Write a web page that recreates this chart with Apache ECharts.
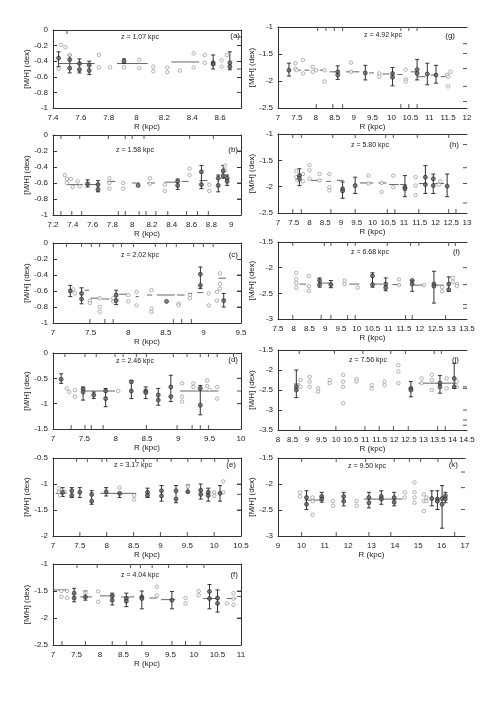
<!DOCTYPE html>
<html><head><meta charset="utf-8">
<script src="https://cdn.jsdelivr.net/npm/echarts/dist/echarts.min.js"></script>
<style>html,body{margin:0;padding:0;background:#fff}#c{width:496px;height:702px}</style>
</head><body><div id="c"></div>
<script>
// ---------- DATA ----------
// err: [R, upper, lower]; dots: filled points [R, [M/H]]; open: open points; means: [R1, R2, [M/H]]
const a_err=[[7.44,-0.28,-0.47],[7.52,-0.32,-0.55],[7.59,-0.37,-0.55],[7.66,-0.40,-0.57],[7.91,-0.37,-0.43],[8.55,-0.32,-0.50],[8.67,-0.28,-0.51]];
const a_dots=[[7.44,-0.36],[7.52,-0.38],[7.52,-0.49],[7.59,-0.43],[7.59,-0.51],[7.66,-0.45],[7.66,-0.52],[7.91,-0.40],[8.55,-0.42],[8.55,-0.44],[8.67,-0.42],[8.67,-0.47]];
const a_open=[[7.46,-0.19],[7.49,-0.22],[7.52,-0.32],[7.44,-0.5],[7.59,-0.5],[7.73,-0.32],[7.73,-0.48],[7.81,-0.48],[7.91,-0.48],[8.02,-0.38],[8.02,-0.49],[8.12,-0.47],[8.12,-0.53],[8.22,-0.48],[8.22,-0.54],[8.31,-0.52],[8.41,-0.30],[8.41,-0.48],[8.49,-0.32],[8.49,-0.42],[8.61,-0.39],[8.61,-0.47],[8.65,-0.32]];
const a_means=[[7.44,7.70,-0.43],[7.86,8.08,-0.43],[8.25,8.45,-0.41]];
const a_rugTop=[7.5], a_rugBot=[], a_rugRight=[-0.09,-0.5,-0.8];

const b_err=[[7.55,-0.56,-0.65],[7.655,-0.57,-0.71],[8.46,-0.55,-0.68],[8.70,-0.38,-0.67],[8.87,-0.50,-0.71],[8.92,-0.38,-0.54],[8.96,-0.50,-0.63]];
const b_dots=[[7.55,-0.61],[7.655,-0.62],[7.655,-0.68],[8.06,-0.63],[8.46,-0.58],[8.46,-0.63],[8.70,-0.46],[8.70,-0.62],[8.87,-0.54],[8.87,-0.63],[8.92,-0.45],[8.92,-0.51],[8.96,-0.54],[8.96,-0.58]];
const b_open=[[7.32,-0.50],[7.34,-0.55],[7.34,-0.60],[7.38,-0.55],[7.40,-0.65],[7.45,-0.58],[7.47,-0.64],[7.77,-0.54],[7.77,-0.60],[7.77,-0.67],[7.91,-0.60],[7.91,-0.67],[8.18,-0.54],[8.18,-0.61],[8.33,-0.62],[8.33,-0.70],[8.58,-0.42],[8.58,-0.50],[8.78,-0.62],[8.78,-0.70],[8.94,-0.38],[8.94,-0.44]];
const b_means=[[7.34,7.50,-0.62],[7.52,7.67,-0.62],[7.75,7.83,-0.58],[8.00,8.08,-0.60],[8.15,8.23,-0.60],[8.33,8.45,-0.59],[8.50,8.57,-0.58],[8.68,8.76,-0.57]];
const b_rugTop=[7.28,7.47,7.76,7.93,8.00,8.12,8.58,8.82], b_rugBot=[7.28,7.39,7.49,7.86,7.93,8.07,8.14,8.24,8.36,8.55,8.66,8.77], b_rugRight=[-0.2,-0.6,-0.8];

const c_err=[[7.23,-0.53,-0.67],[7.38,-0.56,-0.76],[7.84,-0.59,-0.77],[8.96,-0.30,-0.57],[9.27,-0.63,-0.80]];
const c_dots=[[7.23,-0.60],[7.38,-0.63],[7.38,-0.70],[7.84,-0.65],[7.84,-0.72],[8.51,-0.73],[8.96,-0.39],[8.96,-0.53],[9.27,-0.72]];
const c_open=[[7.27,-0.58],[7.29,-0.63],[7.49,-0.72],[7.49,-0.75],[7.62,-0.69],[7.62,-0.80],[7.62,-0.86],[7.80,-0.69],[7.80,-0.73],[8.0,-0.65],[8.0,-0.73],[8.11,-0.61],[8.11,-0.78],[8.31,-0.59],[8.31,-0.82],[8.31,-0.86],[8.67,-0.76],[8.67,-0.78],[8.82,-0.65],[8.82,-0.69],[9.07,-0.63],[9.07,-0.78],[9.18,-0.61],[9.18,-0.72],[9.22,-0.38],[9.22,-0.51],[9.22,-0.57]];
const c_means=[[7.42,7.48,-0.59],[7.5,7.62,-0.69],[7.65,7.75,-0.70],[7.88,7.98,-0.64],[8.1,8.14,-0.67],[8.25,8.32,-0.65],[8.38,8.62,-0.65],[8.65,8.75,-0.65],[8.8,8.85,-0.63],[8.92,9.0,-0.62],[9.2,9.3,-0.44]];
const c_rugTop=[7.18,7.38,7.51,7.62,7.80,7.91,8.07,8.36,8.51,8.64,8.87,9.0,9.13], c_rugBot=[7.49,7.69,7.80,8.60,8.71,8.84], c_rugRight=[-0.4,-0.6,-0.8];

const d_err=[[7.13,-0.41,-0.60],[7.48,-0.67,-0.93],[7.65,-0.77,-0.90],[7.84,-0.70,-1.06],[8.25,-0.54,-0.90],[8.48,-0.67,-0.90],[8.68,-0.70,-1.03],[8.88,-0.44,-0.96],[9.35,-0.64,-1.22]];
const d_dots=[[7.13,-0.52],[7.48,-0.71],[7.48,-0.77],[7.65,-0.83],[7.84,-0.75],[7.84,-0.90],[8.25,-0.57],[8.25,-0.75],[8.48,-0.75],[8.48,-0.78],[8.68,-0.83],[8.68,-0.93],[8.88,-0.67],[8.88,-0.86],[9.35,-0.70],[9.35,-1.03]];
const d_open=[[7.22,-0.70],[7.26,-0.77],[7.35,-0.73],[7.35,-0.86],[8.04,-0.75],[9.06,-0.60],[9.06,-0.86],[9.06,-0.96],[9.24,-0.60],[9.24,-0.67],[9.46,-0.54],[9.46,-0.65],[9.50,-0.73],[9.62,-0.67],[9.62,-0.90]];
const d_means=[[7.48,7.99,-0.75],[9.03,9.64,-0.75]];
const d_rugTop=[7.19,7.51,7.69,7.99,8.12,8.33,8.49,8.92,9.14,9.35,9.48,9.62,9.88], d_rugBot=[7.29,7.51,7.61,7.80,8.49,8.98,9.22,9.35,9.48], d_rugRight=[-0.5,-0.75,-1.0];

const e_err=[[7.18,-1.07,-1.24],[7.35,-1.07,-1.26],[7.50,-1.07,-1.26],[7.72,-1.13,-1.39],[7.99,-1.07,-1.23],[8.24,-1.18,-1.26],[8.76,-1.08,-1.26],[9.02,-1.03,-1.33],[9.29,-1.03,-1.36],[9.51,-1.02,-1.16],[9.75,-1.0,-1.29],[9.89,-1.08,-1.33],[10.11,-1.03,-1.33]];
const e_dots=[[7.18,-1.16],[7.35,-1.13],[7.35,-1.22],[7.50,-1.16],[7.72,-1.20],[7.72,-1.33],[7.99,-1.15],[8.24,-1.18],[8.76,-1.16],[8.76,-1.22],[9.02,-1.13],[9.02,-1.23],[9.29,-1.13],[9.29,-1.29],[9.51,-1.15],[9.75,-1.12],[9.75,-1.20],[9.89,-1.16],[9.89,-1.22],[10.11,-1.18]];
const e_open=[[7.11,-1.08],[7.11,-1.16],[7.13,-1.22],[7.16,-1.12],[7.22,-1.15],[8.24,-1.07],[8.51,-1.22],[8.51,-1.30],[9.51,-1.05],[10.0,-1.16],[10.0,-1.23],[10.17,-0.95],[10.17,-1.16]];
const e_means=[[7.05,7.25,-1.18],[7.88,8.55,-1.18]];
const e_rugTop=[7.44,7.64,7.91,8.0,8.54,8.69,8.94,9.20,9.51,9.76,10.01,10.26], e_rugBot=[7.5,8.0,8.5,9.0,9.5,10.0], e_rugRight=[-1.0,-1.2,-1.5];

const f_err=[[7.45,-1.45,-1.70],[7.69,-1.50,-1.67],[8.26,-1.54,-1.76],[8.56,-1.54,-1.79],[8.89,-1.50,-1.83],[9.53,-1.51,-1.83],[10.33,-1.38,-1.83],[10.50,-1.48,-1.89]];
const f_dots=[[7.45,-1.54],[7.45,-1.63],[7.69,-1.61],[8.26,-1.59],[8.26,-1.67],[8.56,-1.64],[8.56,-1.69],[8.89,-1.61],[8.89,-1.64],[9.53,-1.67],[10.33,-1.51],[10.33,-1.64],[10.50,-1.63],[10.50,-1.73]];
const f_open=[[7.18,-1.50],[7.18,-1.61],[7.30,-1.50],[7.30,-1.63],[7.69,-1.53],[7.96,-1.51],[7.96,-1.70],[9.21,-1.42],[9.21,-1.58],[9.82,-1.63],[9.82,-1.73],[10.10,-1.50],[10.10,-1.58],[10.70,-1.73],[10.84,-1.54],[10.84,-1.64],[10.84,-1.76]];
const f_means=[[7.02,7.30,-1.48],[7.58,7.83,-1.61],[8.0,8.32,-1.59],[8.45,8.73,-1.61],[9.05,9.22,-1.63],[9.3,9.6,-1.66],[10.2,10.55,-1.64],[10.7,10.9,-1.64]];
const f_rugTop=[7.51,7.94,8.65,8.86,9.11,9.46,9.85,10.21], f_rugBot=[7.19,7.69,8.26,8.56,8.89,9.53,9.82,10.13], f_rugRight=[-1.5,-1.6,-2.0];

const g_err=[[7.29,-1.67,-1.91],[8.58,-1.72,-1.97],[9.31,-1.71,-1.98],[10.03,-1.75,-2.09],[10.68,-1.60,-1.98],[10.95,-1.67,-2.07],[11.18,-1.71,-2.04]];
const g_dots=[[7.29,-1.80],[8.58,-1.83],[8.58,-1.89],[9.31,-1.85],[10.03,-1.86],[10.03,-1.93],[10.68,-1.79],[10.68,-1.86],[10.95,-1.87],[11.18,-1.89]];
const g_open=[[7.46,-1.67],[7.46,-1.77],[7.49,-1.80],[7.66,-1.61],[7.66,-1.86],[7.92,-1.74],[7.92,-1.83],[8.01,-1.80],[8.23,-1.80],[8.23,-2.01],[8.93,-1.66],[8.93,-1.83],[9.68,-1.86],[9.68,-1.92],[10.38,-1.79],[10.38,-1.97],[10.38,-2.01],[11.47,-1.89],[11.5,-1.92],[11.5,-2.10],[11.56,-1.83]];
const g_means=[[7.53,7.61,-1.80],[7.70,7.83,-1.80],[8.10,8.20,-1.80],[8.36,8.54,-1.83],[8.80,9.15,-1.83],[9.41,9.54,-1.85],[9.76,9.94,-1.87],[10.16,10.29,-1.88],[10.51,10.64,-1.83],[10.68,10.90,-1.92],[11.04,11.17,-1.89],[11.30,11.43,-1.92]];
const g_rugTop=[8.05,8.27,8.49,8.71,10.25,10.46,10.68], g_rugBot=[8.01,8.45,8.71,10.25,10.46,10.68], g_rugRight=[-1.31,-1.49,-1.77,-2.10,-2.38];

const h_err=[[7.68,-1.66,-1.98],[9.05,-1.91,-2.22],[9.45,-1.82,-2.13],[11.03,-1.79,-2.19],[11.68,-1.60,-2.13],[11.93,-1.76,-2.13],[12.37,-1.76,-2.19]];
const h_dots=[[7.68,-1.79],[7.68,-1.85],[9.05,-2.04],[9.05,-2.08],[9.45,-1.98],[11.03,-2.01],[11.03,-2.04],[11.68,-1.82],[11.68,-1.96],[11.93,-1.85],[11.93,-1.98],[12.37,-1.99]];
const h_open=[[7.58,-1.70],[7.58,-1.82],[7.62,-1.88],[7.79,-1.76],[7.79,-1.90],[8.0,-1.59],[8.0,-1.69],[8.0,-1.85],[8.32,-1.76],[8.32,-1.88],[8.63,-1.76],[8.63,-2.01],[8.63,-2.07],[9.87,-1.79],[9.87,-1.94],[10.29,-1.93],[10.29,-2.10],[10.66,-1.79],[10.66,-2.01],[11.37,-1.82],[11.37,-1.98],[11.37,-2.16],[12.11,-1.96],[12.15,-1.90]];
const h_means=[[8.05,8.37,-1.88],[8.53,8.68,-1.90],[8.87,9.08,-1.88],[9.60,10.03,-1.93],[10.19,10.45,-1.93],[10.53,10.84,-1.96],[10.87,11.08,-1.96],[11.47,11.73,-1.94],[11.97,12.27,-1.94]];
const h_rugTop=[7.47,7.74,8.74,9.45,10.42,10.66,11.42,12.42], h_rugBot=[7.47,7.74,8.68,9.45,10.47,10.71,11.47,12.42,12.65], h_rugRight=[-1.2,-1.64,-1.94,-2.31];

const i_err=[[8.82,-2.20,-2.38],[9.18,-2.25,-2.39],[10.50,-2.10,-2.38],[10.92,-2.20,-2.45],[11.76,-2.25,-2.46],[12.45,-2.07,-2.69],[12.92,-2.18,-2.46]];
const i_dots=[[8.82,-2.25],[8.82,-2.33],[9.18,-2.33],[10.50,-2.16],[10.50,-2.33],[10.92,-2.32],[10.92,-2.39],[11.76,-2.25],[11.76,-2.32],[12.45,-2.32],[12.45,-2.36],[12.92,-2.32],[12.92,-2.43]];
const i_open=[[8.08,-2.10],[8.08,-2.23],[8.08,-2.30],[8.08,-2.39],[8.48,-2.16],[8.48,-2.36],[8.48,-2.45],[9.61,-2.25],[9.61,-2.32],[10.03,-2.39],[11.34,-2.23],[11.34,-2.34],[12.13,-2.34],[12.71,-2.38],[12.71,-2.46],[13.05,-2.20],[13.05,-2.28],[13.18,-2.32],[13.18,-2.36]];
const i_means=[[8.18,8.39,-2.32],[8.82,9.18,-2.30],[9.76,10.08,-2.32],[10.50,10.82,-2.32],[11.13,11.39,-2.33],[11.82,12.13,-2.34],[12.50,12.76,-2.34]];
const i_rugTop=[7.97,8.97,9.18,9.71,9.95,10.97,11.71,11.97,12.92,13.13], i_rugBot=[7.97,8.87,9.18,9.71,9.95,11.55,11.76,12.82], i_rugRight=[-2.0,-2.33,-2.72,-2.79];

const j_err=[[8.63,-2.0,-2.69],[12.57,-2.29,-2.67],[13.57,-2.14,-2.58],[14.06,-1.83,-2.46]];
const j_dots=[[8.63,-2.42],[8.63,-2.50],[12.57,-2.46],[12.57,-2.50],[13.57,-2.33],[13.57,-2.42],[14.06,-2.21],[14.06,-2.42]];
const j_open=[[8.77,-2.25],[8.77,-2.42],[9.09,-2.17],[9.09,-2.29],[9.09,-2.42],[9.38,-2.46],[9.38,-2.54],[9.78,-2.25],[9.78,-2.33],[10.24,-2.12],[10.24,-2.29],[10.24,-2.42],[10.24,-2.83],[10.70,-2.23],[10.70,-2.29],[11.22,-2.38],[11.22,-2.46],[11.66,-2.29],[11.66,-2.38],[12.14,-1.88],[12.14,-2.04],[12.14,-2.33],[12.94,-2.21],[12.94,-2.33],[13.29,-2.12],[13.29,-2.25],[13.29,-2.50],[13.80,-2.21],[13.80,-2.46],[14.15,-2.29],[14.15,-2.42]];
const j_means=[[8.55,8.75,-2.35],[12.83,14.15,-2.33]];
const j_rugTop=[8.73,9.94,10.92,11.88,12.38,13.37,13.62], j_rugBot=[8.75,9.99,10.99,11.48,11.97,12.48,13.49,13.75], j_rugRight=[-2.42,-2.46,-3.0,-3.25,-3.38];

const k_err=[[10.22,-2.13,-2.49],[10.87,-2.16,-2.35],[11.81,-2.16,-2.42],[12.89,-2.16,-2.46],[13.42,-2.13,-2.39],[13.97,-2.16,-2.42],[15.58,-2.13,-2.42],[15.82,-2.13,-2.49],[16.02,-2.03,-2.85],[16.16,-2.16,-2.36]];
const k_dots=[[10.22,-2.26],[10.22,-2.39],[10.87,-2.24],[10.87,-2.29],[11.81,-2.24],[11.81,-2.33],[12.89,-2.26],[12.89,-2.36],[13.42,-2.24],[13.42,-2.29],[13.97,-2.26],[13.97,-2.35],[15.58,-2.28],[15.82,-2.29],[15.82,-2.33],[16.02,-2.28],[16.02,-2.39],[16.16,-2.23],[16.16,-2.29]];
const k_open=[[9.94,-2.16],[9.94,-2.24],[10.48,-2.26],[10.48,-2.33],[10.48,-2.59],[11.35,-2.33],[11.35,-2.42],[12.36,-2.33],[12.36,-2.42],[14.43,-2.16],[14.43,-2.26],[14.84,-1.97],[14.84,-2.16],[14.84,-2.26],[14.84,-2.36],[15.24,-2.20],[15.24,-2.33],[15.24,-2.52],[15.35,-2.26],[15.35,-2.33]];
const k_means=[[10.15,10.95,-2.31],[12.67,14.33,-2.29]];
const k_rugTop=[10.01,11.49,12.75,13.97,14.62,15.10,15.84,16.42], k_rugBot=[10.01,11.49,12.89,13.83,16.56], k_rugRight=[-1.77,-2.07,-2.49];

const zLabels=['z = 1.07 kpc','z = 1.58 kpc','z = 2.02 kpc','z = 2.46 kpc','z = 3.17 kpc','z = 4.04 kpc','z = 4.92 kpc','z = 5.80 kpc','z = 6.68 kpc','z = 7.56 kpc','z = 9.50 kpc'];
const tags=['(a)','(b)','(c)','(d)','(e)','(f)','(g)','(h)','(i)','(j)','(k)'];
const xName='R (kpc)', yName='[M/H] (dex)';

// ---------- LAYOUT ----------
const panels=[
 {box:[53,30,188,78],  xr:[7.4,8.75,0.2], yr:[-1,0,0.2],    rightLine:true, zp:[140,37], tp:[240,36], err:a_err,dots:a_dots,open:a_open,means:a_means,rt:a_rugTop,rb:a_rugBot,rr:a_rugRight},
 {box:[53,135,188,80], xr:[7.2,9.1,0.2],  yr:[-1,0,0.2],    rightLine:true, zp:[135,150],tp:[238,150],err:b_err,dots:b_dots,open:b_open,means:b_means,rt:b_rugTop,rb:b_rugBot,rr:b_rugRight},
 {box:[53,243,188,80], xr:[7,9.5,0.5],    yr:[-1,0,0.2],    rightLine:true, zp:[140,255],tp:[238,255],err:c_err,dots:c_dots,open:c_open,means:c_means,rt:c_rugTop,rb:c_rugBot,rr:c_rugRight},
 {box:[53,353,188,76], xr:[7,10,0.5],     yr:[-1.5,0,0.5],  rightLine:true, zp:[135,361],tp:[238,360],err:d_err,dots:d_dots,open:d_open,means:d_means,rt:d_rugTop,rb:d_rugBot,rr:d_rugRight},
 {box:[53,458,188,78], xr:[7,10.5,0.5],   yr:[-2,-0.5,0.5], rightLine:true, zp:[133,465],tp:[236,465],err:e_err,dots:e_dots,open:e_open,means:e_means,rt:e_rugTop,rb:e_rugBot,rr:e_rugRight},
 {box:[53,564,188,81], xr:[7,11,0.5],     yr:[-2.5,-1,0.5], rightLine:true, zp:[140,575],tp:[238,575],err:f_err,dots:f_dots,open:f_open,means:f_means,rt:f_rugTop,rb:f_rugBot,rr:f_rugRight},
 {box:[278,27,189,81], xr:[7,12,0.5],     yr:[-2.5,-1,0.5], rightLine:false,zp:[383,35], tp:[455,36], err:g_err,dots:g_dots,open:g_open,means:g_means,rt:g_rugTop,rb:g_rugBot,rr:g_rugRight},
 {box:[278,134,189,79],xr:[7,13,0.5],     yr:[-2.5,-1,0.5], rightLine:false,zp:[370,145],tp:[459,145],err:h_err,dots:h_dots,open:h_open,means:h_means,rt:h_rugTop,rb:h_rugBot,rr:h_rugRight},
 {box:[278,242,189,77],xr:[7.5,13.5,0.5], yr:[-3,-1.5,0.5], rightLine:false,zp:[370,252],tp:[460,252],err:i_err,dots:i_dots,open:i_open,means:i_means,rt:i_rugTop,rb:i_rugBot,rr:i_rugRight},
 {box:[278,350,189,80],xr:[8,14.5,0.5],   yr:[-3.5,-1.5,0.5],rightLine:false,zp:[368,360],tp:[459,360],err:j_err,dots:j_dots,open:j_open,means:j_means,rt:j_rugTop,rb:j_rugBot,rr:j_rugRight},
 {box:[278,458,187,78],xr:[9,17,1],       yr:[-3,-1.5,0.5], rightLine:false,zp:[367,466],tp:[458,465],err:k_err,dots:k_dots,open:k_open,means:k_means,rt:k_rugTop,rb:k_rugBot,rr:k_rugRight}
];

const FONT='Liberation Sans, Arial, sans-serif';
const TXT='#222', AX='#333';
function fmtFor(min,step){return function(v){const k=(v-min)/step;if(Math.abs(k-Math.round(k))>1e-6)return '';return String(parseFloat((+v).toFixed(2)));};}

const grid=[],xAxis=[],yAxis=[],series=[],graphic=[];
panels.forEach(function(p,i){
  grid.push({left:p.box[0],top:p.box[1],width:p.box[2],height:p.box[3],containLabel:false});
  xAxis.push({type:'value',gridIndex:i,position:'bottom',min:p.xr[0],max:p.xr[1],interval:p.xr[2],
    axisLine:{show:true,onZero:false,lineStyle:{color:AX,width:1}},axisTick:{show:false},splitLine:{show:false},
    axisLabel:{fontSize:8,color:TXT,fontFamily:FONT,margin:6,formatter:fmtFor(p.xr[0],p.xr[2]),showMinLabel:true,showMaxLabel:true,hideOverlap:false},
    name:xName,nameLocation:'middle',nameGap:15,nameTextStyle:{fontSize:8,color:TXT,fontFamily:FONT}});
  xAxis.push({type:'value',gridIndex:i,position:'top',min:p.xr[0],max:p.xr[1],interval:p.xr[2],
    axisLine:{show:true,onZero:false,lineStyle:{color:AX,width:1}},axisTick:{show:false},axisLabel:{show:false},splitLine:{show:false}});
  yAxis.push({type:'value',gridIndex:i,position:'left',min:p.yr[0],max:p.yr[1],interval:p.yr[2],
    axisLine:{show:true,onZero:false,lineStyle:{color:AX,width:1}},axisTick:{show:true,inside:true,length:4,lineStyle:{color:AX}},splitLine:{show:false},
    axisLabel:{fontSize:8,color:TXT,fontFamily:FONT,margin:5,formatter:fmtFor(p.yr[0],p.yr[2])},
    name:yName,nameLocation:'middle',nameGap:22,nameTextStyle:{fontSize:8,color:TXT,fontFamily:FONT}});
  yAxis.push({type:'value',gridIndex:i,position:'right',min:p.yr[0],max:p.yr[1],interval:p.yr[2],
    axisLine:{show:p.rightLine,onZero:false,lineStyle:{color:AX,width:1}},axisTick:{show:p.rightLine,inside:true,length:4,lineStyle:{color:AX}},
    axisLabel:{show:false},splitLine:{show:false}});
  const xi=2*i, yi=2*i;
  series.push({type:'custom',xAxisIndex:xi,yAxisIndex:yi,data:p.means,encode:{x:[0,1],y:2},silent:true,
    renderItem:function(params,api){const a=api.coord([api.value(0),api.value(2)]),b=api.coord([api.value(1),api.value(2)]);
      return {type:'line',shape:{x1:a[0],y1:a[1],x2:b[0],y2:b[1]},style:{stroke:'#666',lineWidth:1}};}});
  series.push({type:'custom',xAxisIndex:xi,yAxisIndex:yi,data:p.err,encode:{x:0,y:[1,2]},silent:true,
    renderItem:function(params,api){const a=api.coord([api.value(0),api.value(1)]),b=api.coord([api.value(0),api.value(2)]);const w=2;
      const st={stroke:'#333',lineWidth:1};
      return {type:'group',children:[
        {type:'line',shape:{x1:a[0],y1:a[1],x2:b[0],y2:b[1]},style:st},
        {type:'line',shape:{x1:a[0]-w,y1:a[1],x2:a[0]+w,y2:a[1]},style:st},
        {type:'line',shape:{x1:b[0]-w,y1:b[1],x2:b[0]+w,y2:b[1]},style:st}]};}});
  const ymin=p.yr[0], ymax=p.yr[1], xmax=p.xr[1];
  series.push({type:'custom',xAxisIndex:xi,yAxisIndex:yi,data:p.rt.map(function(r){return [r,ymax];}),encode:{x:0,y:1},silent:true,
    renderItem:function(params,api){const a=api.coord([api.value(0),api.value(1)]);
      return {type:'line',shape:{x1:a[0],y1:a[1],x2:a[0],y2:a[1]+4},style:{stroke:'#555',lineWidth:1}};}});
  series.push({type:'custom',xAxisIndex:xi,yAxisIndex:yi,data:p.rb.map(function(r){return [r,ymin];}),encode:{x:0,y:1},silent:true,
    renderItem:function(params,api){const a=api.coord([api.value(0),api.value(1)]);
      return {type:'line',shape:{x1:a[0],y1:a[1],x2:a[0],y2:a[1]-4},style:{stroke:'#555',lineWidth:1}};}});
  series.push({type:'custom',xAxisIndex:xi,yAxisIndex:yi,data:p.rr.map(function(v){return [xmax,v];}),encode:{x:0,y:1},silent:true,
    renderItem:function(params,api){const a=api.coord([api.value(0),api.value(1)]);
      return {type:'line',shape:{x1:a[0]-4,y1:a[1],x2:a[0],y2:a[1]},style:{stroke:'#555',lineWidth:1}};}});
  series.push({type:'scatter',xAxisIndex:xi,yAxisIndex:yi,data:p.open,symbol:'circle',symbolSize:3.5,silent:true,
    itemStyle:{color:'#fff',borderColor:'#888',borderWidth:0.8}});
  series.push({type:'scatter',xAxisIndex:xi,yAxisIndex:yi,data:p.dots,symbol:'circle',symbolSize:4,silent:true,
    itemStyle:{color:'#666',borderColor:'#222',borderWidth:0.8}});
  graphic.push({type:'text',x:p.zp[0],y:p.zp[1],style:{text:zLabels[i],fontSize:7,fill:TXT,fontFamily:FONT,textAlign:'center',textVerticalAlign:'middle'}});
  graphic.push({type:'text',x:p.tp[0],y:p.tp[1],style:{text:tags[i],fontSize:8,fill:TXT,fontFamily:FONT,textAlign:'right',textVerticalAlign:'middle'}});
});

const chart=echarts.init(document.getElementById('c'),null,{renderer:'canvas'});
chart.setOption({animation:false,backgroundColor:'#fff',grid:grid,xAxis:xAxis,yAxis:yAxis,series:series,graphic:graphic});
</script></body></html>
